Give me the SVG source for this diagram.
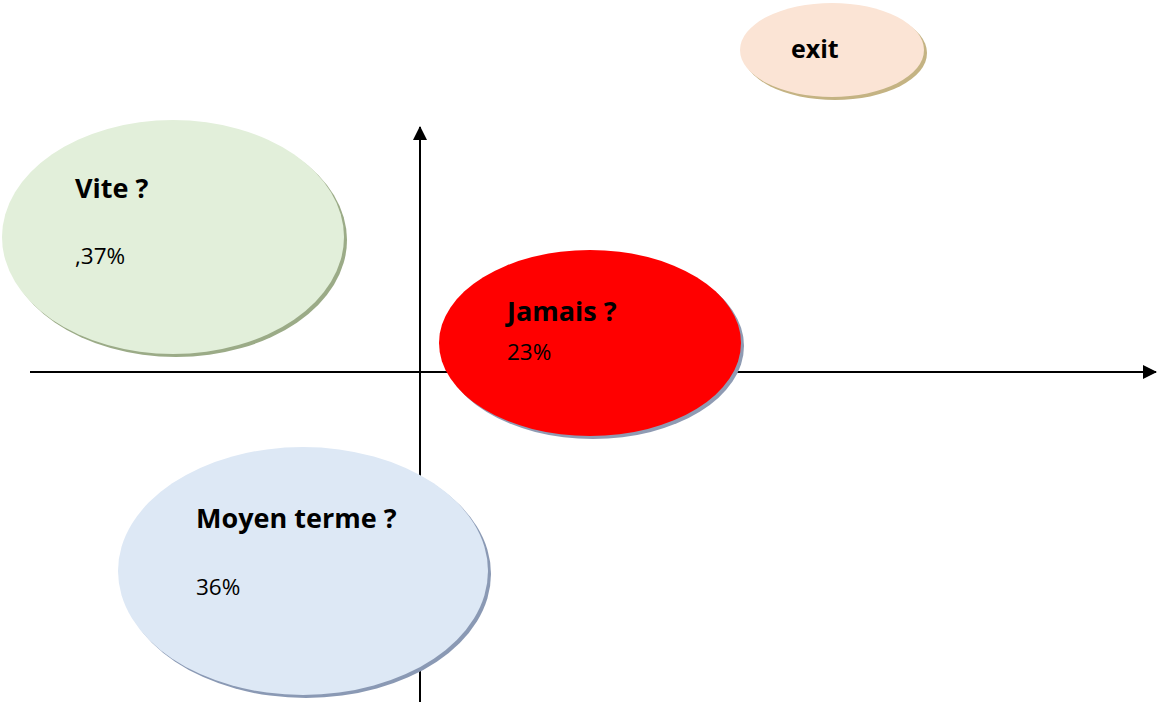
<svg xmlns="http://www.w3.org/2000/svg" width="1157" height="702" viewBox="0 0 1157 702">
<defs>
<style>
.t{font-family:"Open Sans","Liberation Sans",sans-serif;fill:#000}
.b{font-weight:bold;font-size:27px}
.e{font-weight:bold;font-size:25px}
.r{font-size:22.5px}
.ax{stroke:#000;stroke-width:2;fill:none}
</style>
<marker id="ah" markerWidth="14" markerHeight="14" refX="13" refY="7" orient="auto" markerUnits="userSpaceOnUse">
<path d="M0,0 L14,7 L0,14 Z" fill="#000"/>
</marker>
</defs>
<rect width="1157" height="702" fill="#fff"/>
<g id="connectors">
<line class="ax" x1="30" y1="372" x2="1156" y2="372" marker-end="url(#ah)"/>
<line class="ax" x1="420" y1="702" x2="420" y2="127" marker-end="url(#ah)"/>
</g>
<g id="exit">
<ellipse cx="835" cy="53" rx="92" ry="47" fill="#c4b383"/>
<ellipse cx="832" cy="50" rx="92" ry="47" fill="#fbe4d5"/>
<text class="t e" x="791" y="58">exit</text>
</g>
<g id="vite">
<ellipse cx="176" cy="240" rx="171" ry="117" fill="#9bab87"/>
<ellipse cx="173" cy="237" rx="171" ry="117" fill="#e2efda"/>
<text class="t b" x="75" y="198">Vite ?</text>
<text class="t r" x="75" y="264">,37%</text>
</g>
<g id="jamais">
<ellipse cx="593" cy="346" rx="151" ry="93" fill="#8f9bb3"/>
<ellipse cx="590" cy="343" rx="151" ry="93" fill="#ff0000"/>
<text class="t b" x="507" y="321">Jamais ?</text>
<text class="t r" x="507" y="360">23%</text>
</g>
<g id="moyen">
<ellipse cx="306" cy="574" rx="185" ry="124" fill="#8a99b4"/>
<ellipse cx="303" cy="571" rx="185" ry="124" fill="#dde8f5"/>
<text class="t b" x="196" y="528">Moyen terme ?</text>
<text class="t r" x="196" y="595">36%</text>
</g>
</svg>
